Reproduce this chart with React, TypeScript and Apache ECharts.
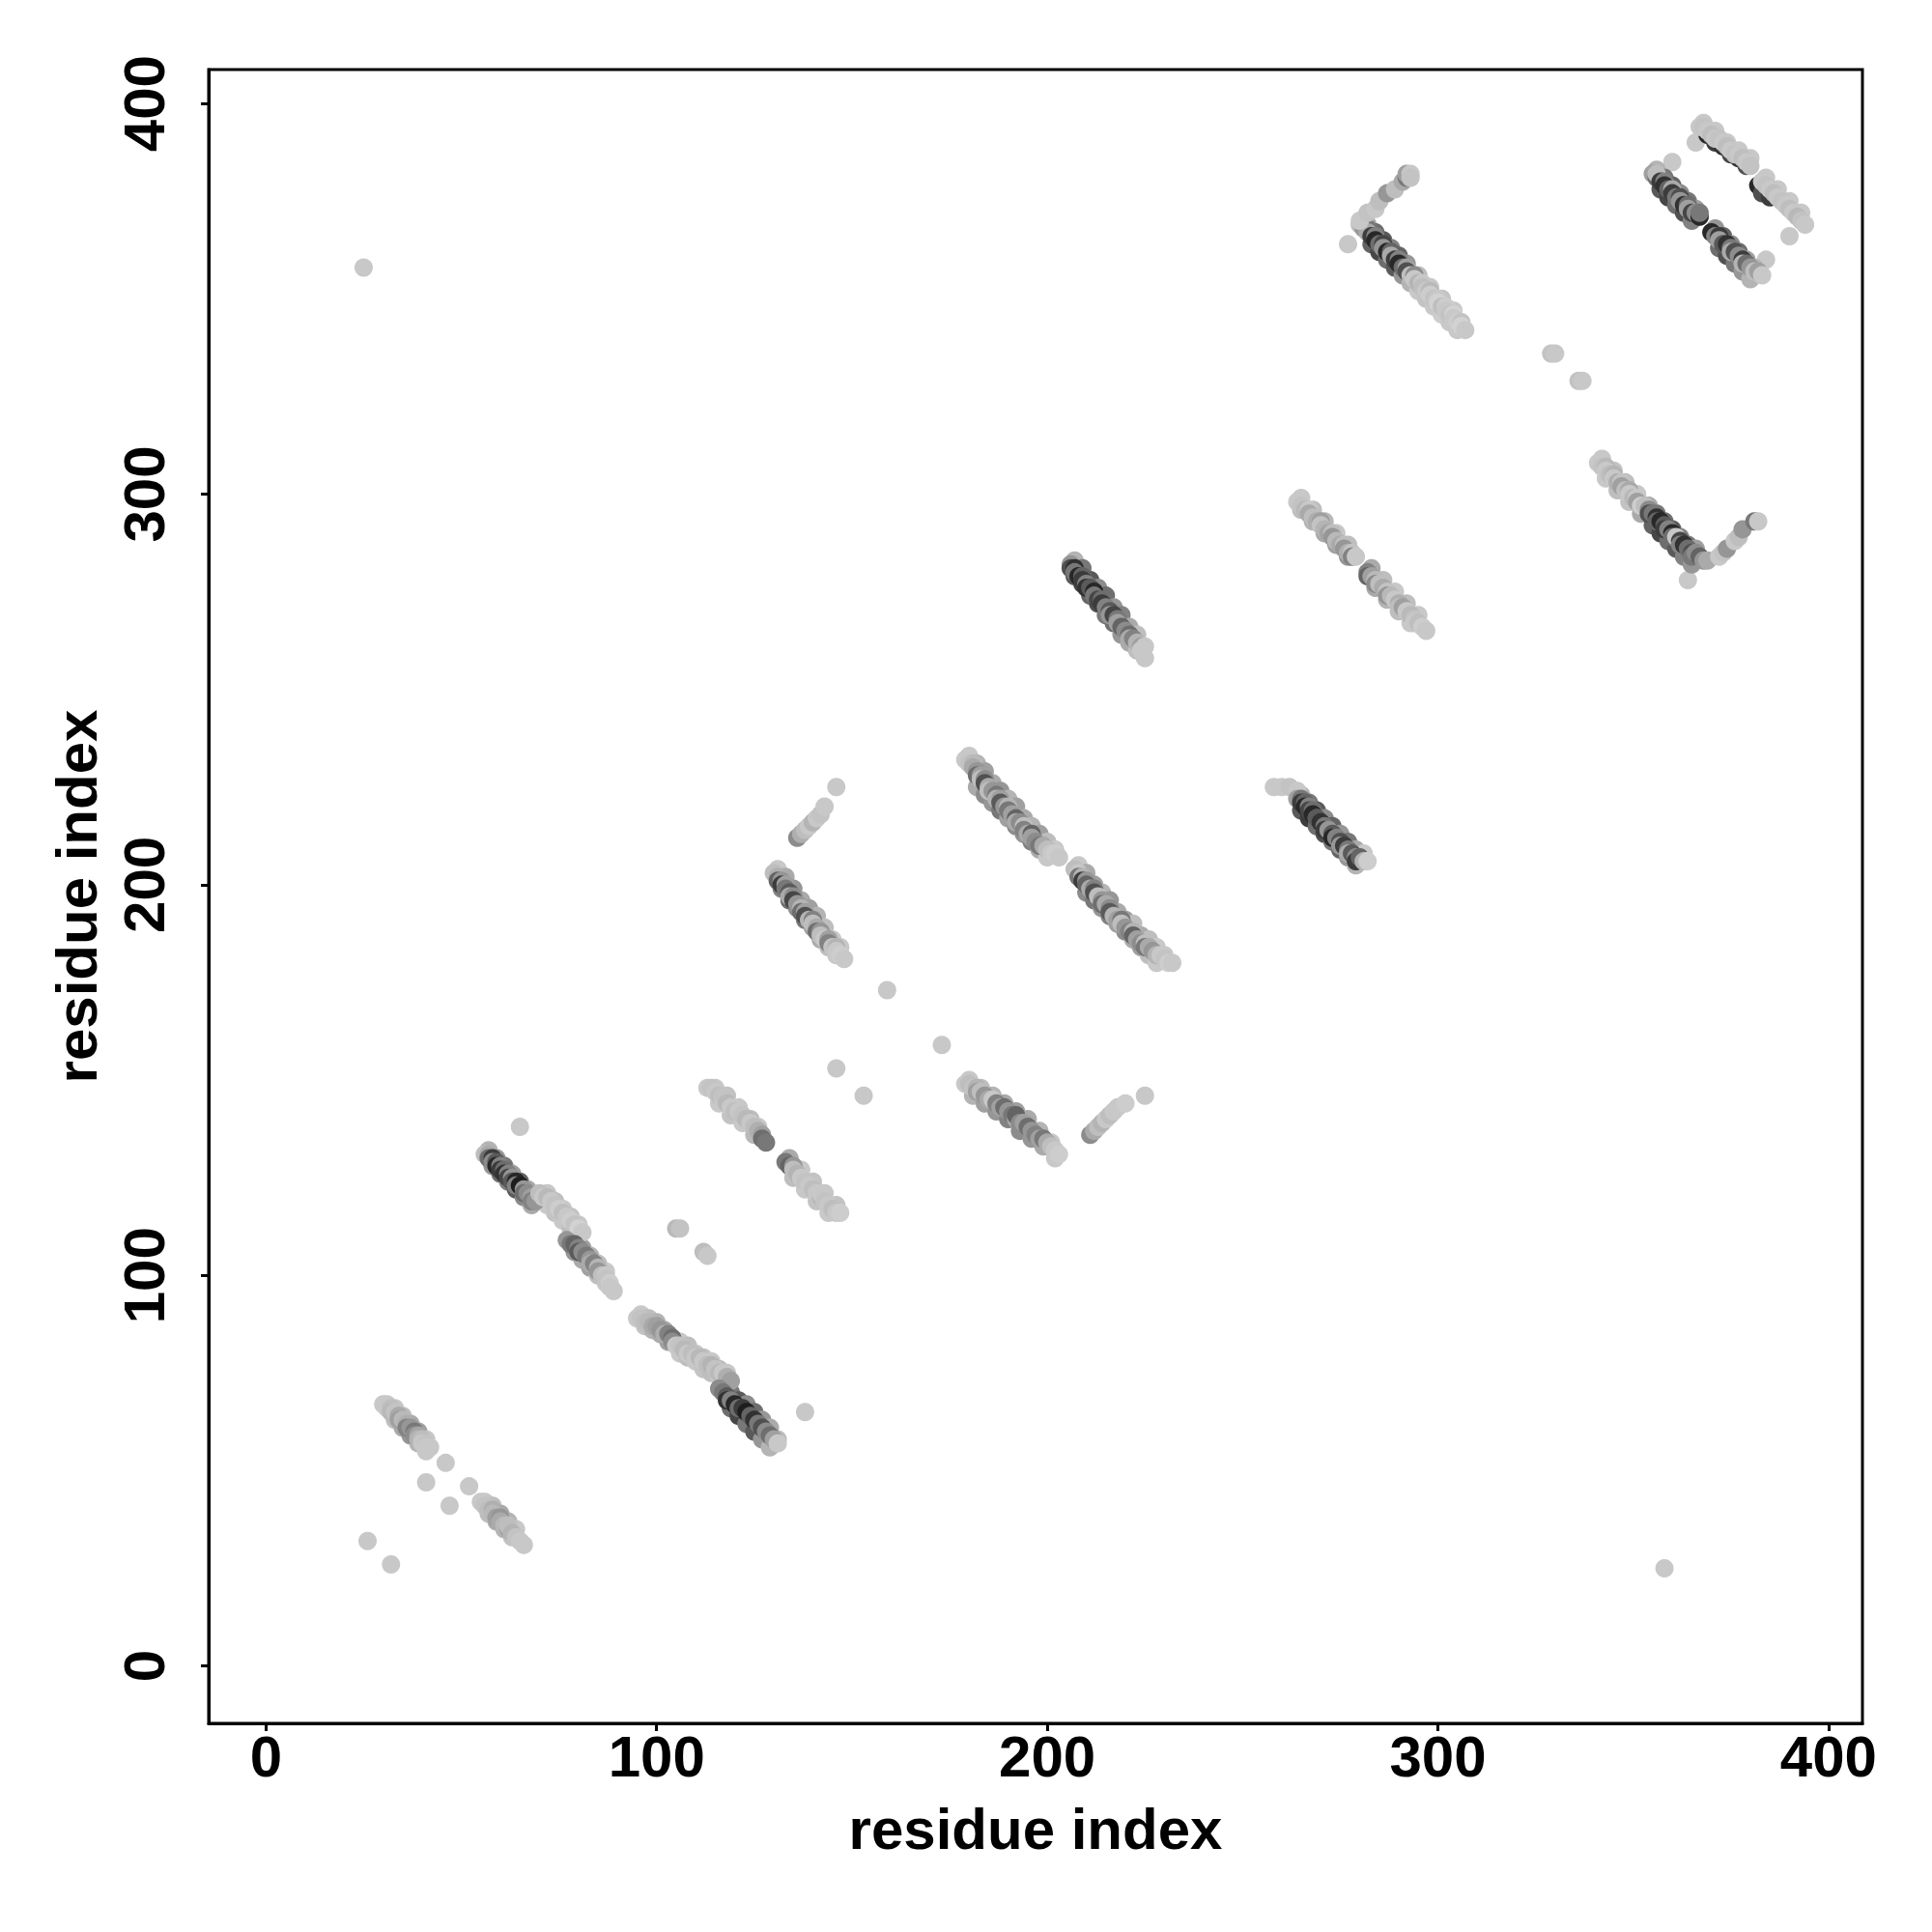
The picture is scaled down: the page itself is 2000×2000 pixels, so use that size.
import React, { useEffect, useRef } from "react";
import * as echarts from "echarts";

const tickValues = [0, 100, 200, 300, 400];
const axisTitle = "residue index";
const axisMin = -14.68;
const axisMax = 408.68;

// each point: [residue i, residue j, grey level 0-255]
const singles = [
  [25, 358, 200], [26, 32, 200], [32, 26, 200], [358, 25, 200],
  [41, 47, 200], [46, 52, 200], [47, 41, 200], [52, 46, 200],
  [65, 138, 200], [105, 112, 185], [106, 112, 195], [112, 106, 190], [113, 105, 200],
  [138, 65, 200], [146, 153, 200], [153, 146, 200], [159, 173, 200], [173, 159, 200],
  [329, 336, 195], [330, 336, 200], [336, 329, 195], [337, 329, 200],
  [364, 278, 200], [360, 385, 200], [366, 390, 200], [390, 366, 200], [384, 360, 200], [277, 364, 200],
];

// lower-side rows of the bands (drawn first, underneath)
const lowA = [[33, 63, 190], [35, 61, 170], [37, 59, 150], [39, 57, 180], [41, 55, 200]];
const lowB = [[57, 39, 190], [59, 37, 170], [61, 35, 180], [63, 33, 195]];
const lowC = [
  [58, 128, 150], [60, 126, 110], [62, 124, 130], [64, 122, 90], [66, 120, 140], [68, 118, 170],
  [72, 118, 200], [74, 116, 195], [76, 114, 200], [78, 112, 190],
  [79, 106, 150], [81, 104, 170], [83, 102, 160], [85, 100, 190], [87, 98, 200],
];
const lowD = [
  [97, 87, 195], [99, 86, 180], [101, 85, 170], [103, 83, 160], [106, 80, 200], [108, 79, 190], [110, 78, 200],
  [112, 76, 195], [114, 75, 190], [116, 74, 200], [118, 72, 170], [119, 66, 110], [121, 64, 70], [123, 62, 120],
  [125, 60, 90], [127, 58, 150], [129, 56, 180],
];
const lowE = [[116, 144, 200], [119, 141, 195], [122, 139, 200], [125, 136, 185]];
const lowF = [[135, 125, 190], [138, 122, 200], [141, 119, 195], [144, 116, 200]];
const lowG = [[132, 199, 130], [134, 196, 110], [136, 194, 140], [138, 191, 120], [140, 189, 160], [142, 186, 170], [144, 184, 190], [146, 182, 200]];
const lowH = [
  [182, 225, 170], [184, 223, 140], [186, 221, 150], [188, 219, 120], [190, 217, 160], [192, 215, 140],
  [194, 213, 150], [196, 211, 130], [198, 209, 170], [200, 207, 200],
];
const lowI = [[181, 146, 180], [184, 144, 160], [187, 142, 150], [190, 140, 130], [193, 137, 140], [196, 135, 150], [199, 133, 170], [202, 130, 200]];
const lowJ = [
  [210, 198, 140], [212, 196, 120], [214, 194, 150], [216, 192, 130], [218, 190, 160], [220, 188, 140],
  [222, 186, 170], [224, 184, 160], [226, 182, 190], [228, 180, 200],
];
const lowK = [[207, 279, 90], [209, 277, 70], [211, 274, 100], [213, 272, 80], [215, 269, 120], [217, 267, 110], [219, 264, 150], [221, 262, 170], [223, 260, 190]];
const lowL = [[265, 219, 90], [267, 217, 60], [269, 215, 110], [271, 213, 80], [273, 211, 120], [275, 209, 100], [277, 207, 150], [279, 205, 180]];
const lowM = [[265, 296, 190], [268, 293, 180], [271, 290, 170], [274, 287, 160], [277, 284, 150], [284, 276, 170], [287, 273, 180], [290, 270, 190], [293, 267, 200]];
const lowN = [
  [283, 364, 100], [285, 362, 70], [287, 360, 110], [289, 358, 90], [291, 356, 150], [293, 354, 180],
  [295, 352, 200], [297, 350, 195], [299, 348, 200], [301, 346, 205], [303, 344, 200], [305, 342, 200],
];
const lowO = [[343, 304, 200], [346, 301, 190], [349, 298, 195], [352, 295, 170], [355, 292, 100], [357, 290, 70], [359, 288, 110], [361, 286, 90], [363, 284, 130], [365, 282, 150]];
const lowP = [[357, 378, 90], [359, 376, 70], [361, 374, 110], [363, 372, 80], [365, 370, 130]];
const lowR = [[372, 363, 110], [374, 361, 80], [376, 359, 120], [378, 357, 150], [380, 355, 180]];

// upper-side rows of the bands
const edgeA = [[31, 67, 200], [33, 66, 200], [35, 64, 190], [37, 62, 170], [39, 60, 160], [41, 58, 200]];
const edgeB = [[56, 42, 200], [58, 41, 190], [60, 39, 170], [62, 37, 180], [64, 35, 200]];
const edgeC = [
  [57, 132, 180], [59, 130, 150], [61, 128, 120], [63, 126, 160], [65, 124, 100], [67, 122, 170], [69, 120, 190],
  [72, 121, 200], [74, 119, 190], [76, 117, 200], [78, 115, 195], [80, 113, 200],
  [79, 109, 170], [81, 107, 160], [83, 105, 180], [85, 103, 190], [87, 101, 200],
];
const edgeD = [
  [96, 90, 200], [98, 89, 190], [100, 88, 180], [102, 86, 170], [106, 83, 200], [108, 82, 190], [110, 80, 200],
  [112, 79, 195], [114, 78, 200], [116, 76, 190], [118, 75, 200], [117, 72, 160], [119, 70, 120], [121, 68, 90],
  [123, 67, 140], [125, 65, 110], [127, 63, 150], [129, 61, 170], [131, 58, 190],
];
const edgeE = [[115, 148, 200], [118, 146, 195], [121, 143, 200], [124, 140, 190], [126, 138, 200]];
const edgeF = [[134, 130, 170], [137, 127, 200], [140, 124, 195], [143, 121, 200], [146, 118, 195]];
const edgeG = [
  [131, 204, 200], [133, 202, 170], [135, 199, 150], [137, 196, 170], [139, 194, 160], [141, 192, 180],
  [143, 189, 190], [145, 186, 200], [147, 184, 200],
];
const edgeH = [
  [180, 233, 200], [182, 231, 180], [184, 229, 160], [186, 226, 170], [188, 224, 150], [190, 222, 180],
  [192, 220, 160], [194, 217, 170], [196, 215, 180], [198, 213, 160], [200, 211, 190], [202, 209, 200],
];
const edgeI = [[180, 150, 200], [183, 148, 190], [186, 146, 180], [189, 144, 170], [192, 142, 160], [195, 140, 170], [198, 137, 180], [201, 134, 200]];
const edgeJ = [
  [208, 205, 200], [210, 203, 170], [212, 200, 160], [214, 198, 180], [216, 196, 150], [218, 193, 170],
  [220, 191, 160], [222, 190, 190], [224, 187, 170], [226, 186, 190], [228, 184, 200], [230, 182, 200],
];
const edgeK = [[207, 283, 180], [209, 281, 120], [211, 278, 90], [213, 276, 140], [215, 274, 110], [217, 271, 150], [219, 269, 130], [221, 266, 170], [223, 264, 190]];
const edgeL = [[265, 223, 180], [267, 221, 120], [269, 219, 90], [271, 217, 140], [273, 215, 100], [275, 213, 150], [277, 211, 120], [279, 209, 170], [281, 208, 200]];
const edgeM = [
  [265, 299, 200], [268, 296, 190], [271, 293, 185], [274, 290, 200], [277, 287, 190],
  [283, 281, 170], [286, 278, 190], [289, 275, 200], [292, 272, 190], [295, 269, 200],
];
const edgeN = [
  [282, 369, 170], [284, 367, 110], [286, 365, 90], [288, 363, 130], [290, 361, 100], [292, 359, 150],
  [295, 356, 190], [298, 353, 200], [301, 350, 195], [304, 347, 200],
];
const edgeO = [
  [342, 309, 200], [345, 306, 195], [348, 303, 190], [351, 300, 200], [354, 297, 170], [356, 295, 120],
  [358, 293, 110], [360, 291, 90], [362, 289, 130], [364, 287, 120], [366, 286, 160],
];
const edgeP = [[356, 383, 180], [358, 381, 120], [360, 379, 100], [362, 377, 140], [364, 375, 120], [366, 373, 160]];
const edgeQ = [[368, 395, 200], [371, 393, 200], [374, 390, 200], [377, 388, 200], [380, 386, 200]];
const edgeR = [[371, 368, 150], [373, 366, 100], [375, 364, 140], [377, 362, 110], [379, 360, 160], [381, 358, 180]];
const edgeS = [[384, 381, 200], [387, 378, 200], [390, 375, 200], [393, 372, 200]];

const bandA = [
  [30, 67, 200], [31, 66, 200], [32, 66, 190], [32, 65, 185], [33, 65, 195], [34, 64, 170], [34, 63, 160],
  [35, 63, 185], [36, 62, 175], [36, 61, 130], [37, 61, 150], [38, 60, 120], [38, 59, 140], [39, 59, 165],
  [39, 58, 180], [40, 58, 190], [40, 57, 200], [41, 57, 195], [41, 56, 200], [42, 56, 200],
];

const bandB = [
  [55, 42, 200], [56, 41, 195], [57, 40, 190], [58, 40, 175], [58, 39, 185], [59, 38, 160], [60, 38, 150],
  [60, 37, 170], [61, 36, 185], [62, 35, 165], [62, 36, 190], [63, 34, 180], [64, 33, 195], [65, 32, 200], [66, 31, 200],
];

const bandC = [
  [56, 131, 190], [57, 131, 170], [57, 130, 110], [58, 130, 60], [58, 129, 140], [59, 129, 90], [59, 128, 40],
  [60, 128, 130], [60, 127, 60], [61, 127, 110], [61, 126, 50], [62, 126, 130], [62, 125, 70], [63, 125, 150],
  [63, 124, 90], [64, 124, 40], [64, 123, 130], [65, 123, 30], [66, 122, 150], [66, 121, 110], [67, 121, 140],
  [68, 120, 160], [68, 119, 130], [69, 119, 150],
  [70, 121, 190], [71, 120, 200], [72, 120, 185], [73, 119, 200], [74, 118, 195], [75, 117, 205], [76, 116, 190],
  [77, 115, 200], [78, 114, 205], [79, 113, 195], [80, 112, 210], [81, 111, 200],
  [77, 109, 150], [78, 108, 120], [79, 108, 100], [80, 107, 130], [80, 106, 90], [81, 106, 140], [82, 105, 120],
  [83, 104, 150], [83, 103, 170], [84, 103, 130], [85, 102, 180], [85, 101, 150], [86, 100, 190], [87, 100, 200],
  [87, 99, 195], [88, 98, 205], [88, 97, 200], [89, 96, 200],
];

const bandD = [
  [95, 89, 200], [96, 89, 195], [97, 88, 190], [98, 88, 185], [99, 87, 170], [100, 87, 160], [101, 86, 150],
  [102, 85, 175], [103, 85, 130], [104, 84, 110], [104, 83, 140],
  [105, 82, 200], [106, 82, 195], [107, 81, 185], [108, 80, 200], [109, 80, 190], [110, 79, 200], [111, 79, 185],
  [112, 78, 200], [113, 77, 190], [114, 77, 180], [115, 76, 195], [116, 75, 185], [117, 75, 200], [118, 74, 175], [119, 73, 160],
  [116, 71, 140], [117, 70, 120], [118, 69, 90], [118, 68, 50], [119, 68, 130], [120, 67, 40], [121, 66, 110],
  [122, 66, 60], [123, 65, 30], [124, 64, 100], [125, 63, 50], [126, 62, 120], [127, 61, 80], [128, 60, 140],
  [129, 59, 110], [130, 58, 160], [131, 57, 200],
];

const bandE = [
  [113, 148, 200], [114, 148, 195], [115, 147, 200], [116, 146, 190], [117, 145, 200], [117, 146, 195],
  [118, 144, 185], [119, 143, 200], [120, 142, 190], [121, 142, 200], [122, 141, 195], [123, 140, 185],
  [124, 139, 200], [125, 138, 190], [126, 137, 175], [127, 136, 160], [127, 135, 110], [128, 134, 120],
];

const bandF = [
  [133, 129, 120], [134, 128, 100], [135, 128, 150], [135, 127, 190], [136, 126, 180], [137, 125, 200],
  [138, 124, 195], [139, 123, 200], [140, 122, 190], [141, 121, 200], [142, 120, 185], [142, 121, 200],
  [143, 119, 195], [144, 118, 200], [145, 117, 190], [146, 116, 200], [147, 116, 205],
];

const bandG = [
  [130, 203, 190], [131, 202, 175], [131, 201, 100], [132, 201, 150], [132, 200, 60], [133, 200, 160],
  [133, 199, 120], [134, 198, 90], [134, 197, 170], [135, 197, 140], [135, 196, 70], [136, 195, 150],
  [137, 194, 180], [137, 193, 110], [138, 193, 160], [138, 192, 80], [139, 191, 180], [140, 191, 130],
  [140, 190, 190], [141, 189, 170], [141, 188, 110], [142, 188, 150], [142, 187, 190], [143, 186, 200],
  [144, 186, 160], [144, 185, 130], [145, 184, 195], [146, 184, 180], [146, 183, 200], [147, 182, 205], [148, 181, 200],
];

const bandGup = [
  [136, 212, 140], [137, 213, 175], [138, 214, 190], [139, 215, 200], [140, 216, 180], [141, 217, 200],
  [142, 218, 195], [143, 220, 200], [146, 225, 200],
];

const bandH = [
  [179, 232, 200], [180, 231, 195], [181, 231, 185], [181, 230, 170], [182, 229, 150], [182, 228, 110],
  [183, 228, 160], [183, 227, 190], [184, 227, 140], [184, 226, 80], [185, 225, 170], [185, 224, 190],
  [186, 224, 150], [187, 223, 120], [187, 222, 180], [188, 222, 160], [188, 221, 90], [189, 220, 150],
  [190, 220, 180], [190, 219, 120], [191, 218, 160], [192, 217, 100], [192, 216, 170], [193, 216, 140],
  [194, 215, 190], [194, 214, 130], [195, 213, 170], [196, 213, 100], [196, 212, 160], [197, 211, 140],
  [198, 210, 120], [199, 210, 170], [200, 209, 190], [201, 208, 200], [202, 208, 205], [203, 207, 200],
];

const bandI = [
  [179, 149, 200], [180, 149, 190], [181, 148, 195], [182, 148, 180], [182, 147, 160], [183, 147, 190],
  [184, 146, 150], [185, 145, 170], [186, 145, 200], [187, 144, 130], [188, 143, 160], [189, 143, 110],
  [190, 142, 150], [191, 141, 120], [192, 140, 170], [192, 141, 100], [193, 139, 140], [194, 139, 160],
  [195, 138, 110], [196, 137, 150], [197, 136, 130], [198, 135, 160], [199, 135, 120], [200, 134, 170],
  [201, 133, 190], [202, 132, 200], [203, 131, 205],
];

const bandIup = [
  [211, 136, 140], [212, 137, 170], [213, 138, 190], [214, 139, 180], [215, 140, 200], [216, 141, 190],
  [217, 142, 200], [218, 143, 200], [220, 144, 205], [225, 146, 200],
];

const bandJ = [
  [207, 204, 190], [208, 203, 200], [208, 202, 120], [209, 202, 180], [209, 201, 60], [210, 201, 150],
  [210, 200, 100], [211, 199, 170], [212, 199, 130], [212, 198, 80], [213, 197, 190], [214, 196, 150],
  [214, 195, 110], [215, 195, 170], [216, 194, 140], [216, 193, 90], [217, 192, 180], [218, 191, 160],
  [219, 191, 120], [219, 190, 190], [220, 189, 150], [221, 188, 130], [222, 188, 180], [222, 187, 100],
  [223, 186, 160], [224, 185, 140], [225, 185, 190], [225, 184, 120], [226, 184, 170], [227, 183, 150],
  [228, 182, 180], [229, 182, 200], [230, 181, 195], [231, 180, 205], [232, 180, 200],
];

const bandK = [
  [206, 282, 150], [206, 281, 80], [207, 281, 50], [207, 280, 120], [208, 279, 40], [209, 279, 100],
  [209, 278, 60], [210, 277, 130], [210, 276, 50], [211, 276, 90], [212, 275, 40], [212, 274, 120],
  [213, 273, 70], [214, 273, 110], [214, 272, 60], [215, 271, 130], [216, 270, 90], [216, 269, 150],
  [217, 269, 70], [218, 268, 120], [218, 267, 160], [219, 266, 100], [220, 265, 140], [221, 264, 110],
  [221, 263, 170], [222, 263, 130], [223, 262, 180], [224, 261, 160], [224, 260, 200], [225, 261, 200], [225, 258, 200],
];

const bandL = [
  [258, 225, 200], [260, 225, 200], [262, 225, 195], [264, 224, 200],
  [264, 222, 160], [265, 222, 120], [265, 221, 60], [266, 221, 100], [266, 220, 40], [267, 220, 130],
  [267, 219, 70], [268, 219, 110], [268, 218, 40], [269, 217, 140], [269, 217, 90], [270, 216, 50],
  [271, 215, 120], [271, 214, 60], [272, 214, 150], [273, 213, 90], [273, 212, 40], [274, 212, 130],
  [275, 211, 80], [275, 210, 150], [276, 210, 60], [277, 209, 120], [277, 208, 170], [278, 208, 90],
  [279, 207, 140], [279, 206, 60], [280, 207, 100], [281, 206, 180], [282, 206, 205],
];

const bandMup = [
  [264, 298, 200], [265, 297, 195], [266, 296, 185], [267, 296, 200], [267, 295, 170], [268, 294, 190],
  [269, 293, 175], [270, 293, 160], [270, 292, 195], [271, 291, 180], [272, 290, 165], [273, 290, 190],
  [273, 289, 150], [274, 288, 185], [275, 287, 170], [276, 287, 190], [276, 286, 150], [277, 285, 175],
  [278, 285, 195], [278, 284, 130], [279, 284, 200],
];

const bandMlow = [
  [282, 280, 130], [282, 279, 100], [283, 279, 160], [284, 278, 185], [284, 277, 140], [285, 277, 190],
  [286, 276, 170], [287, 275, 195], [287, 274, 150], [288, 274, 185], [289, 273, 200], [290, 272, 175],
  [290, 271, 190], [291, 271, 160], [292, 270, 200], [293, 269, 185], [294, 268, 195], [294, 267, 200],
  [295, 267, 190], [296, 266, 205], [297, 265, 200],
];

const bandN = [
  [280, 369, 190], [281, 368, 150], [282, 368, 120], [282, 367, 170], [283, 366, 60], [284, 366, 130],
  [284, 365, 40], [285, 364, 110], [286, 364, 70], [286, 363, 150], [287, 362, 40], [288, 362, 100],
  [288, 361, 170], [289, 360, 60], [290, 360, 130], [290, 359, 40], [291, 358, 110], [292, 358, 160],
  [292, 357, 80], [293, 356, 190], [294, 356, 140], [294, 355, 200], [295, 354, 180], [296, 354, 200],
  [296, 353, 190], [297, 352, 200], [298, 352, 185], [298, 351, 205], [299, 350, 195], [300, 350, 200],
  [300, 349, 210], [301, 348, 190], [302, 348, 205], [302, 347, 200], [303, 346, 195], [304, 346, 210],
  [304, 345, 200], [305, 344, 205], [306, 344, 195], [306, 343, 210], [307, 342, 200],
];

const bandNup = [
  [280, 370, 200], [282, 372, 195], [284, 373, 200], [285, 375, 190], [287, 377, 150], [289, 378, 190],
  [291, 380, 170], [292, 381, 120], [292, 382, 160], [293, 382, 200], [293, 381, 195],
];

const bandO = [
  [341, 308, 200], [342, 307, 195], [343, 307, 185], [343, 306, 200], [344, 305, 190], [345, 305, 180],
  [345, 304, 200], [346, 303, 175], [347, 303, 195], [347, 302, 160], [348, 301, 190], [349, 301, 170],
  [349, 300, 200], [350, 299, 185], [351, 299, 200], [351, 298, 160], [352, 297, 205], [353, 297, 190],
  [354, 296, 140], [354, 295, 80], [355, 295, 120], [356, 294, 50], [356, 293, 100], [357, 293, 40],
  [358, 292, 90], [358, 291, 60], [359, 291, 130], [360, 290, 40], [360, 289, 110], [361, 289, 200],
  [362, 288, 70], [362, 287, 130], [363, 287, 50], [364, 286, 110], [365, 285, 80], [365, 284, 120],
  [366, 285, 140], [367, 284, 100], [368, 283, 150], [369, 283, 170],
];

const bandOup = [
  [372, 284, 200], [373, 285, 195], [374, 286, 150], [376, 288, 200], [377, 289, 190], [378, 291, 150],
  [381, 293, 120], [382, 293, 200],
];

const bandP = [
  [355, 382, 160], [356, 381, 110], [356, 382, 190], [357, 380, 60], [358, 380, 130], [358, 379, 50],
  [359, 378, 100], [360, 378, 170], [360, 377, 60], [361, 376, 120], [362, 376, 80], [362, 375, 150],
  [363, 374, 50], [364, 374, 110], [364, 373, 160], [365, 372, 70], [366, 372, 140], [367, 371, 40], [367, 372, 120],
];

const bandQ = [
  [369, 392, 40], [371, 390, 60], [373, 389, 50], [375, 387, 70], [377, 386, 50], [379, 384, 80],
  [367, 394, 200], [368, 394, 195], [369, 393, 200], [370, 392, 190], [371, 391, 200], [372, 391, 195],
  [373, 390, 200], [374, 389, 190], [375, 388, 200], [376, 387, 195], [377, 387, 200], [378, 386, 190],
  [379, 385, 200], [380, 384, 195],
];

const bandR = [
  [370, 367, 40], [371, 366, 130], [372, 366, 60], [372, 365, 160], [373, 364, 90], [374, 364, 50],
  [375, 363, 120], [375, 362, 170], [376, 362, 80], [377, 361, 140], [378, 360, 60], [378, 359, 180],
  [379, 359, 110], [380, 358, 150], [381, 357, 190], [382, 357, 160], [383, 356, 200],
];

const bandS = [
  [382, 379, 40], [383, 377, 80], [385, 376, 60],
  [383, 380, 200], [384, 379, 195], [385, 378, 200], [386, 377, 190], [387, 376, 200], [388, 375, 195],
  [389, 374, 200], [390, 373, 190], [391, 372, 200], [392, 371, 185], [393, 370, 195], [394, 369, 200],
];

const allPoints = [
  ...singles,
  ...lowA, ...lowB, ...lowC, ...lowD, ...lowE, ...lowF, ...lowG, ...lowH, ...lowI, ...lowJ, ...lowK, ...lowL,
  ...lowM, ...lowN, ...lowO, ...lowP, ...lowR,
  ...edgeA, ...edgeB, ...edgeC, ...edgeD, ...edgeE, ...edgeF, ...edgeG, ...edgeH, ...edgeI, ...edgeJ, ...edgeK,
  ...edgeL, ...edgeM, ...edgeN, ...edgeO, ...edgeP, ...edgeQ, ...edgeR, ...edgeS,
  ...bandA, ...bandB, ...bandC, ...bandD, ...bandE, ...bandF, ...bandG, ...bandGup,
  ...bandH, ...bandI, ...bandIup, ...bandJ, ...bandK, ...bandL, ...bandMup, ...bandMlow,
  ...bandN, ...bandNup, ...bandO, ...bandOup, ...bandP, ...bandQ, ...bandR, ...bandS,
];

const FONT = "'Liberation Sans', Arial, Helvetica, sans-serif";

export default function App() {
  const ref = useRef<HTMLDivElement>(null);
  useEffect(() => {
    const chart = echarts.init(ref.current as HTMLDivElement, null, { renderer: "svg" });
    chart.setOption({
      animation: false,
      backgroundColor: "#ffffff",
      grid: {
        left: 216, top: 72, width: 1712, height: 1712,
        show: true, borderColor: "#000", borderWidth: 3, backgroundColor: "transparent",
      },
      xAxis: {
        type: "value", position: "bottom", min: axisMin, max: axisMax,
        axisLine: { show: true, onZero: false, lineStyle: { color: "#000", width: 3 } },
        axisTick: { show: true, customValues: tickValues, length: 8, lineStyle: { color: "#000", width: 3 } },
        axisLabel: {
          show: true, customValues: tickValues, margin: 4, color: "#000",
          fontSize: 60, fontWeight: "bold", fontFamily: FONT,
        },
        splitLine: { show: false },
      },
      yAxis: {
        type: "value", position: "left", min: axisMin, max: axisMax,
        axisLine: { show: true, onZero: false, lineStyle: { color: "#000", width: 3 } },
        axisTick: { show: true, customValues: tickValues, length: 8, lineStyle: { color: "#000", width: 3 } },
        axisLabel: {
          show: true, customValues: tickValues, margin: 37, rotate: 90, color: "#000",
          fontSize: 60, fontWeight: "bold", fontFamily: FONT,
        },
        splitLine: { show: false },
      },
      graphic: [
        {
          type: "text", x: 1072, y: 1893,
          style: { text: axisTitle, fill: "#000", font: `bold 60px ${FONT}`, textAlign: "center", textVerticalAlign: "middle" },
        },
        {
          type: "text", x: 79, y: 928, rotation: Math.PI / 2,
          style: { text: axisTitle, fill: "#000", font: `bold 60px ${FONT}`, textAlign: "center", textVerticalAlign: "middle" },
        },
      ],
      series: [
        {
          type: "scatter",
          symbol: "circle",
          symbolSize: 19,
          itemStyle: { opacity: 1 },
          data: allPoints.map((p) => ({
            value: [p[0], p[1]],
            itemStyle: { color: `rgb(${p[2]},${p[2]},${p[2]})`, opacity: 1 },
          })),
        },
      ],
    });
    return () => chart.dispose();
  }, []);
  return <div ref={ref} style={{ position: "absolute", left: 0, top: 0, width: 2000, height: 2000 }} />;
}
